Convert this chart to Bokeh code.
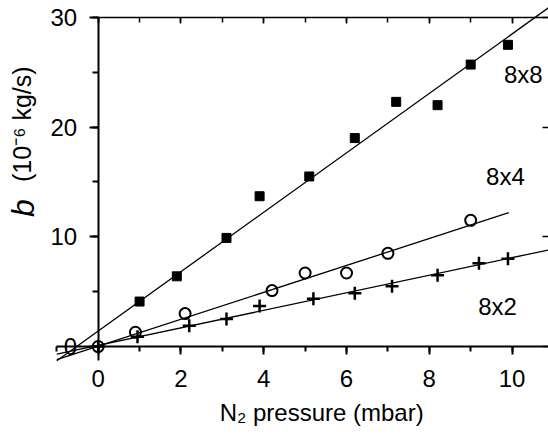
from bokeh.plotting import figure
from bokeh.models import LinearAxis, Label, SingleIntervalTicker, Range1d
from bokeh.embed import file_html
from bokeh.resources import INLINE

# ---- data ----
sq_x = [1.0, 1.9, 3.1, 3.9, 5.1, 6.2, 7.2, 8.2, 9.0, 9.9]          # 8x8
sq_y = [4.1, 6.4, 9.9, 13.7, 15.5, 19.0, 22.3, 22.0, 25.7, 27.5]
ci_x = [0.0, 0.9, 2.1, 4.2, 5.0, 6.0, 7.0, 9.0]                      # 8x4
ci_y = [0.0, 1.3, 3.0, 5.1, 6.7, 6.7, 8.5, 11.5]
pl_x = [0.0, 0.95, 2.2, 3.1, 3.9, 5.2, 6.2, 7.1, 8.2, 9.2, 9.9]      # 8x2
pl_y = [0.0, 0.9, 1.9, 2.5, 3.7, 4.35, 4.85, 5.5, 6.5, 7.6, 8.0]

fit88_x = [-1.0, 11.0]
fit88_y = [-1.3, 31.2]
fit84_x = [-1.0, 9.92]
fit84_y = [-1.2, 12.2]
fit82_x = [-1.0, 11.0]
fit82_y = [-0.7, 8.9]

series_names = ["8x8", "8x4", "8x2"]
x_title = "N\u2082 pressure (mbar)"
y_title_sym = "b"
y_title_unit = "(10\u207b\u2076 kg/s)"

FONT = "Liberation Sans"

p = figure(width=548, height=436, output_backend="svg", toolbar_location=None,
           x_range=Range1d(-2.36, 10.88), y_range=Range1d(-8.2, 31.54),
           x_axis_location=None, y_axis_location=None,
           min_border_left=0, min_border_right=0, min_border_top=0,
           min_border_bottom=0, min_border=0)
p.outline_line_color = None
p.grid.visible = False
p.background_fill_color = "white"
p.border_fill_color = "white"

def style(ax, size="24px"):
    ax.major_label_text_font = FONT
    ax.major_label_text_font_size = size
    ax.major_label_text_color = "black"
    ax.axis_line_color = "black"
    ax.major_tick_line_color = "black"
    ax.minor_tick_line_color = "black"

# bottom axis at y=0
xb = LinearAxis(fixed_location=0, bounds=(-1.0, 10.88),
                ticker=SingleIntervalTicker(interval=2, num_minor_ticks=2))
style(xb)
xb.axis_line_width = 2
xb.major_tick_line_width = 2
xb.minor_tick_line_width = 2
xb.major_tick_out = 8
xb.major_tick_in = 0
xb.minor_tick_out = 5
xb.minor_tick_in = 0
xb.major_label_standoff = 15
p.add_layout(xb, "below")

# left axis at x=0
yl = LinearAxis(fixed_location=0, bounds=(-1.3, 30),
                ticker=SingleIntervalTicker(interval=10, num_minor_ticks=2))
style(yl)
yl.axis_line_width = 2
yl.major_tick_line_width = 2
yl.minor_tick_line_width = 2
yl.major_tick_out = 9
yl.major_tick_in = 0
yl.minor_tick_out = 6
yl.minor_tick_in = 0
yl.major_label_standoff = 12
p.add_layout(yl, "left")

# top axis at y=30
xt = LinearAxis(fixed_location=30, bounds=(0, 10.88),
                ticker=SingleIntervalTicker(interval=2, num_minor_ticks=2))
style(xt)
xt.major_label_text_color = None
xt.axis_line_width = 1.5
xt.major_tick_line_width = 1.5
xt.minor_tick_line_width = 1.5
xt.major_tick_in = 6
xt.major_tick_out = 0
xt.minor_tick_in = 5
xt.minor_tick_out = 0
p.add_layout(xt, "above")

# right axis ticks at the window edge
yr = LinearAxis(fixed_location=10.88, bounds=(0, 30),
                ticker=SingleIntervalTicker(interval=10, num_minor_ticks=0))
style(yr)
yr.major_label_text_color = None
yr.axis_line_color = None
yr.minor_tick_line_color = None
yr.major_tick_line_width = 1.5
yr.major_tick_in = 6
yr.major_tick_out = 0
p.add_layout(yr, "right")

# fit lines
p.line(fit88_x, fit88_y, line_color="black", line_width=1.3)
p.line(fit84_x, fit84_y, line_color="black", line_width=1.3)
p.line(fit82_x, fit82_y, line_color="black", line_width=1.3)

# markers
p.scatter(sq_x, sq_y, marker="square", size=9, fill_color="black", line_color="black")
p.scatter(ci_x, ci_y, marker="circle", size=11, fill_color=None, line_color="black", line_width=2)
p.scatter(pl_x, pl_y, marker="cross", size=13, line_color="black", line_width=2.5)

# series labels
for name, lx, ly in zip(series_names, [10.27, 9.84, 9.65], [24.8, 15.5, 3.65]):
    p.add_layout(Label(x=lx, y=ly, text=name, text_font=FONT, text_font_size="24px",
                       text_align="center", text_baseline="middle", text_color="black"))

# axis titles
p.add_layout(Label(x=5.4, y=-6.0, text=x_title, text_font=FONT, text_font_size="24px",
                   text_align="center", text_baseline="alphabetic", text_color="black"))
p.add_layout(Label(x=-1.81, y=11.8, text=y_title_sym, text_font=FONT, text_font_size="32px",
                   text_font_style="italic", angle=90, angle_units="deg",
                   text_align="left", text_baseline="alphabetic", text_color="black"))
p.add_layout(Label(x=-1.83, y=15.0, text=y_title_unit, text_font=FONT, text_font_size="25px",
                   angle=90, angle_units="deg",
                   text_align="left", text_baseline="alphabetic", text_color="black"))

open("out.html", "w").write(file_html(p, INLINE))
